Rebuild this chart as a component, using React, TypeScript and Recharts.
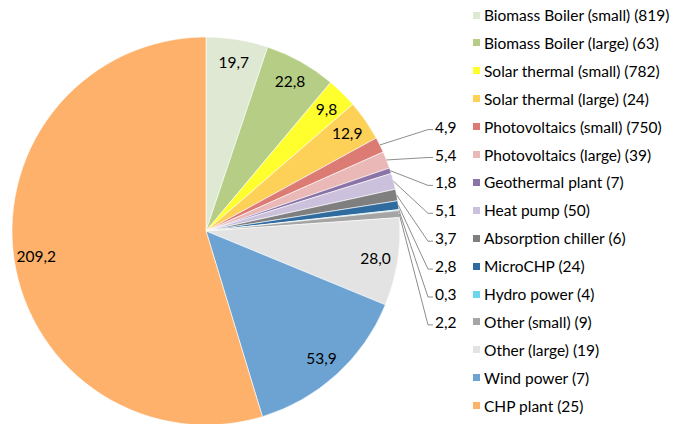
import { PieChart, Pie, Cell, Legend } from 'recharts';

// slice names, count of plants and the installed value per technology
const categories = [
  'Biomass Boiler (small)',
  'Biomass Boiler (large)',
  'Solar thermal (small)',
  'Solar thermal (large)',
  'Photovoltaics (small)',
  'Photovoltaics (large)',
  'Geothermal plant',
  'Heat pump',
  'Absorption chiller',
  'MicroCHP',
  'Hydro power',
  'Other (small)',
  'Other (large)',
  'Wind power',
  'CHP plant',
];
const counts = [819, 63, 782, 24, 750, 39, 7, 50, 6, 24, 4, 9, 19, 7, 25];
const values = [19.7, 22.8, 9.8, 12.9, 4.9, 5.4, 1.8, 5.1, 3.7, 2.8, 0.3, 2.2, 28.0, 53.9, 209.2];
const colors = [
  '#dfe8d3', '#b6cd86', '#ffff2e', '#fdd157', '#dc7a74',
  '#e9b8b7', '#8a74a6', '#ccc1dd', '#7f7f7f', '#2f6b9f',
  '#6cd6ea', '#a5a5a5', '#e3e3e3', '#6da3d2', '#fdb16b',
];

const data = categories.map((name, i) => ({ name, count: counts[i], value: values[i] }));

const FONT = 'Lato, "Open Sans", sans-serif';
const RAD = Math.PI / 180;
const ROW_TOP = 15;
const ROW_STEP = 27.9;
const rowY = (i: number) => ROW_TOP + ROW_STEP * i;

const fmt = (v: number) => v.toFixed(1).replace('.', ',');

// small slices get a callout lined up with their legend row
const renderLabel = (p: any) => {
  const { cx, cy, midAngle, outerRadius, index } = p;
  const value = values[index];
  const a = -midAngle * RAD;
  if (value < 6) {
    const sx = cx + outerRadius * Math.cos(a);
    const sy = cy + outerRadius * Math.sin(a);
    const y = rowY(index);
    return (
      <g key={`lbl-${index}`}>
        <polyline
          points={`${sx},${sy} 428,${y + 3} 433,${y + 3}`}
          fill="none"
          stroke="#808080"
          strokeWidth={0.9}
        />
        <text x={435} y={y} dominantBaseline="central" fontFamily={FONT} fontSize={15.5} fill="#000">
          {fmt(value)}
        </text>
      </g>
    );
  }
  const r = outerRadius * 0.885;
  return (
    <text
      key={`lbl-${index}`}
      x={cx + r * Math.cos(a)}
      y={cy + r * Math.sin(a)}
      textAnchor="middle"
      dominantBaseline="central"
      fontFamily={FONT}
      fontSize={15.5}
      fill="#000"
    >
      {fmt(value)}
    </text>
  );
};

const renderLegend = () => (
  <div style={{ fontFamily: FONT, fontSize: 15.5, color: '#000' }}>
    {data.map((d, i) => (
      <div
        key={d.name}
        style={{
          position: 'absolute',
          left: 0,
          top: rowY(i) - 10,
          height: 20,
          display: 'flex',
          alignItems: 'center',
          whiteSpace: 'nowrap',
        }}
      >
        <span style={{ width: 7, height: 7, background: colors[i], display: 'inline-block', marginRight: 4 }} />
        <span>{`${d.name} (${d.count})`}</span>
      </div>
    ))}
  </div>
);

export default function App() {
  return (
    <div style={{ position: 'absolute', left: 0, top: 0, width: 685, height: 424, background: '#fff' }}>
      <PieChart width={685} height={424} margin={{ top: 0, right: 0, bottom: 0, left: 0 }}>
        <Pie
          data={data}
          dataKey="value"
          nameKey="name"
          cx={206}
          cy={231}
          outerRadius={194}
          startAngle={90}
          endAngle={-270}
          stroke="#fff"
          strokeWidth={0.6}
          label={renderLabel}
          labelLine={false}
          isAnimationActive={false}
        >
          {data.map((_d, i) => (
            <Cell key={`cell-${i}`} fill={colors[i]} />
          ))}
        </Pie>
        <Legend
          content={renderLegend}
          wrapperStyle={{ position: 'absolute', left: 473, top: 0, width: 212, height: 424 }}
        />
      </PieChart>
    </div>
  );
}
